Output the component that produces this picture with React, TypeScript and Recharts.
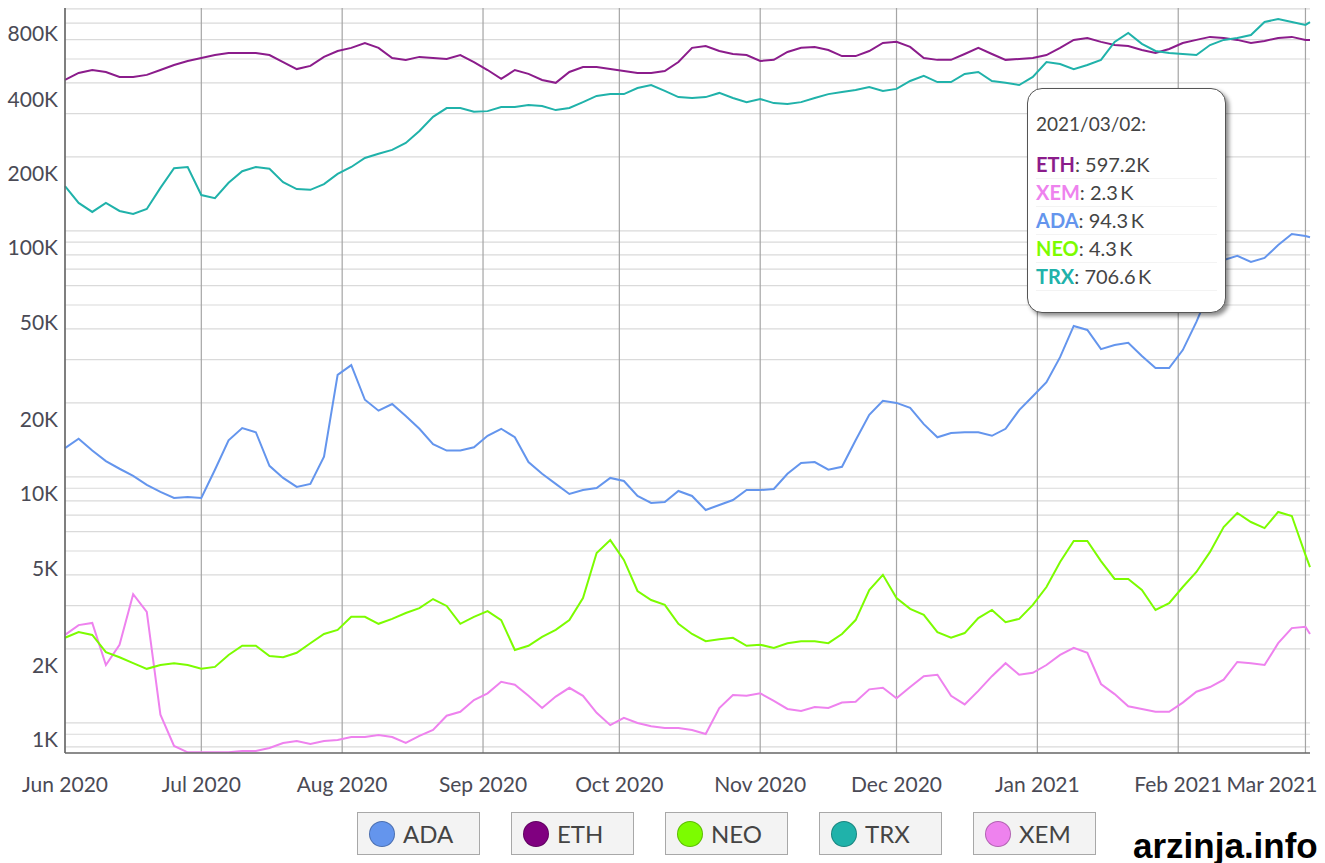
import { CartesianGrid, Line, LineChart, Tooltip, XAxis, YAxis } from "recharts"

// days since 2020-06-01
const START = Date.UTC(2020, 5, 1)
const days = [
  0, 3, 6, 9, 12, 15, 18, 21, 24, 27, 30, 33, 36, 39, 42, 45, 48, 51, 54, 57, 60, 63, 66, 69, 72, 75, 78, 81, 84, 87,
  90, 93, 96, 99, 102, 105, 108, 111, 114, 117, 120, 123, 126, 129, 132, 135, 138, 141, 144, 147, 150, 153, 156, 159,
  162, 165, 168, 171, 174, 177, 180, 183, 186, 189, 192, 195, 198, 201, 204, 207, 210, 213, 216, 219, 222, 225, 228,
  231, 234, 237, 240, 243, 246, 249, 252, 255, 258, 261, 264, 267, 270, 273, 274,
]

// values in thousands
const eth = [
  411, 439, 451, 443, 423, 423, 431, 451, 473, 491, 505, 519, 529, 529, 529, 519, 486, 455, 469, 510, 539, 555, 581, 555,
  505, 496, 510, 505, 500, 519, 486, 451, 415, 451, 435, 411, 400, 443, 464, 464, 455, 447, 439, 439, 447, 486, 555, 565,
  539, 524, 519, 491, 496, 534, 555, 560, 544, 514, 514, 539, 581, 587, 560, 505, 496, 496, 524, 555, 524, 496, 500, 505,
  519, 555, 598, 609, 587, 570, 565, 544, 529, 549, 581, 598, 615, 609, 598, 581, 592, 609, 615, 598, 597.2,
]
const xem = [
  2.28, 2.5, 2.55, 1.72, 2.08, 3.34, 2.83, 1.08, 0.806, 0.76, 0.76, 0.76, 0.76, 0.769, 0.769, 0.791, 0.829, 0.845, 0.822,
  0.845, 0.853, 0.877, 0.877, 0.894, 0.877, 0.829, 0.886, 0.937, 1.07, 1.11, 1.24, 1.32, 1.47, 1.43, 1.29, 1.15, 1.28,
  1.39, 1.29, 1.1, 0.98, 1.05, 1.0, 0.97, 0.954, 0.954, 0.937, 0.902, 1.15, 1.3, 1.29, 1.32, 1.23, 1.14, 1.12, 1.16, 1.15,
  1.21, 1.22, 1.37, 1.39, 1.26, 1.4, 1.55, 1.57, 1.29, 1.19, 1.35, 1.55, 1.75, 1.57, 1.6, 1.72, 1.89, 2.02, 1.93, 1.44,
  1.31, 1.17, 1.14, 1.11, 1.11, 1.21, 1.34, 1.4, 1.5, 1.77, 1.75, 1.72, 2.11, 2.43, 2.46, 2.3,
]
const ada = [
  13.1, 14.3, 12.8, 11.6, 10.8, 10.1, 9.28, 8.69, 8.22, 8.29, 8.22, 10.7, 14.1, 15.8, 15.2, 11.1, 9.91, 9.11, 9.37, 12.1,
  26.0, 28.5, 20.6, 18.6, 19.8, 17.7, 15.7, 13.6, 12.8, 12.8, 13.2, 14.7, 15.7, 14.5, 11.5, 10.3, 9.37, 8.53, 8.85, 9.02,
  9.91, 9.63, 8.37, 7.84, 7.91, 8.77, 8.37, 7.34, 7.69, 8.06, 8.85, 8.85, 8.94, 10.3, 11.4, 11.5, 10.7, 11.0, 14.1, 17.9,
  20.4, 20.0, 19.1, 16.4, 14.5, 15.1, 15.2, 15.2, 14.7, 15.7, 18.7, 21.3, 24.3, 30.7, 41.1, 39.6, 33.1, 34.4, 35.1, 31.0,
  27.7, 27.7, 32.8, 42.7, 57.6, 76.2, 79.2, 74.8, 77.7, 87.7, 97.2, 95.4, 94.3,
]
const neo = [
  2.22, 2.34, 2.28, 1.94, 1.85, 1.75, 1.66, 1.72, 1.75, 1.72, 1.66, 1.69, 1.89, 2.06, 2.06, 1.87, 1.85, 1.93, 2.11, 2.3,
  2.39, 2.7, 2.7, 2.53, 2.65, 2.8, 2.93, 3.19, 2.99, 2.53, 2.7, 2.85, 2.62, 1.98, 2.06, 2.24, 2.39, 2.62, 3.22, 4.91,
  5.54, 4.6, 3.44, 3.16, 3.02, 2.53, 2.3, 2.15, 2.19, 2.22, 2.06, 2.08, 2.02, 2.11, 2.15, 2.15, 2.11, 2.3, 2.62, 3.47,
  4.0, 3.22, 2.91, 2.75, 2.34, 2.22, 2.32, 2.67, 2.88, 2.57, 2.65, 3.02, 3.57, 4.51, 5.49, 5.49, 4.55, 3.85, 3.85, 3.47,
  2.88, 3.07, 3.57, 4.11, 4.96, 6.26, 7.14, 6.56, 6.2, 7.21, 6.94, 4.82, 4.3,
]
const trx = [
  152, 130, 119.5, 130, 120.6, 117.3, 122.9, 149.6, 180, 182, 140, 136, 157, 175, 182, 179, 158, 148, 147, 155, 170.5,
  182, 198, 206, 213.5, 228, 255, 291, 316, 316, 305, 307, 319, 319, 325, 322, 310, 316, 334, 354, 360, 360, 381, 392,
  371, 350, 347, 350, 364, 347, 334, 344, 331, 328, 334, 347, 360, 367, 374, 385, 371, 378, 407, 427, 403, 403, 435, 443,
  407, 400, 392, 423, 486, 477, 455, 473, 496, 587, 638, 576, 539, 529, 524, 519, 570, 598, 609, 626, 707, 727, 707, 688,
  706.6,
]

const series = [
  { key: "ETH", color: "#8b1c8b", values: eth },
  { key: "XEM", color: "#ee82ee", values: xem },
  { key: "ADA", color: "#6495ed", values: ada },
  { key: "NEO", color: "#7cfc00", values: neo },
  { key: "TRX", color: "#20b2aa", values: trx },
]
const legendOrder = ["ADA", "ETH", "NEO", "TRX", "XEM"]
const legendColors: Record<string, string> = {
  ADA: "#6495ed",
  ETH: "#800080",
  NEO: "#7cfc00",
  TRX: "#20b2aa",
  XEM: "#ee82ee",
}

const monthTicks = [0, 30, 61, 92, 122, 153, 183, 214, 245, 273]
const monthLabels = [
  "Jun 2020", "Jul 2020", "Aug 2020", "Sep 2020", "Oct 2020",
  "Nov 2020", "Dec 2020", "Jan 2021", "Feb 2021", "Mar 2021",
]
const yTicks = [1, 2, 5, 10, 20, 50, 100, 200, 400, 800]
const yLabels = ["1K", "2K", "5K", "10K", "20K", "50K", "100K", "200K", "400K", "800K"]
const gridValues = [
  0.8, 0.9, 1, 2, 3, 4, 5, 6, 7, 8, 9, 10, 20, 30, 40, 50, 60, 70, 80, 90, 100, 200, 300, 400, 500, 600, 700, 800,
]

const rows = days.map((day, i) => {
  const row: Record<string, number> = { day }
  series.forEach((s) => (row[s.key] = s.values[i]))
  return row
})

const FONT = "Lato, 'Noto Sans', sans-serif"

function fmtDate(day: number) {
  const d = new Date(START + day * 86400000)
  const mm = String(d.getUTCMonth() + 1).padStart(2, "0")
  const dd = String(d.getUTCDate()).padStart(2, "0")
  return `${d.getUTCFullYear()}/${mm}/${dd}:`
}

function YTick({ y, payload }: any) {
  const label = yLabels[yTicks.indexOf(payload.value)]
  return (
    <text x={58} y={Math.max(y + 16, 32)} textAnchor="end" dominantBaseline="central" fontSize={21} fill="#4a4a55" fontFamily={FONT}>
      {label}
    </text>
  )
}

function XTick({ x, y, payload }: any) {
  const i = monthTicks.indexOf(payload.value)
  const last = i === monthTicks.length - 1
  return (
    <text x={last ? x + 12 : x} y={y + 31} textAnchor={last ? "end" : "middle"} fontSize={21} fill="#4a4a55" fontFamily={FONT}>
      {monthLabels[i]}
    </text>
  )
}

function TipBox({ active, payload, label }: any) {
  if (!active || !payload || !payload.length) return null
  return (
    <div
      style={{
        width: 199,
        height: 225,
        boxSizing: "border-box",
        background: "#fff",
        border: "1.5px solid #555",
        borderRadius: 15,
        boxShadow: "3px 3px 4px rgba(0,0,0,0.45)",
        padding: "24px 8px 0 8px",
        fontFamily: FONT,
        fontSize: 20,
        color: "#444",
      }}
    >
      <div style={{ lineHeight: "22px", fontSize: 19 }}>{fmtDate(label)}</div>
      <div style={{ marginTop: 16 }}>
        {payload.map((p: any) => (
          <div key={p.name} style={{ lineHeight: "27px", borderBottom: "1px solid #f3f3f3" }}>
            <span style={{ color: p.color || p.stroke, fontWeight: 700 }}>{p.name}</span>
            <span>: {p.value}{p.name === "ETH" ? "K" : "\u2009K"}</span>
          </div>
        ))}
      </div>
    </div>
  )
}

export default function App() {
  return (
    <div style={{ position: "absolute", left: 0, top: 0, width: 1325, height: 863, background: "#fff", fontFamily: FONT }}>
      <LineChart width={1325} height={863} data={rows} margin={{ top: 8, right: 15, bottom: 60, left: 0 }}>
        <CartesianGrid vertical={false} horizontalValues={gridValues} stroke="#dadada" strokeWidth={1.2} />
        <CartesianGrid horizontal={false} verticalValues={monthTicks} stroke="#a5a5a5" strokeWidth={1.2} />
        <XAxis
          dataKey="day"
          type="number"
          domain={[0, 274]}
          ticks={monthTicks}
          tick={<XTick />}
          tickLine={false}
          axisLine={{ stroke: "#666", strokeWidth: 1.5 }}
          height={50}
          interval={0}
        />
        <YAxis
          type="number"
          scale="log"
          domain={[0.755, 806]}
          allowDataOverflow
          ticks={yTicks}
          tick={<YTick />}
          tickLine={false}
          axisLine={{ stroke: "#666", strokeWidth: 1.5 }}
          width={65}
          interval={0}
        />
        <Tooltip
          content={<TipBox />}
          defaultIndex={rows.length - 1}
          active
          cursor={false}
          position={{ x: 1027, y: 88 }}
          isAnimationActive={false}
          wrapperStyle={{ pointerEvents: "none" }}
        />
        {series.map((s) => (
          <Line
            key={s.key}
            dataKey={s.key}
            name={s.key}
            type="linear"
            stroke={s.color}
            strokeWidth={2}
            dot={false}
            activeDot={false}
            isAnimationActive={false}
          />
        ))}
      </LineChart>

      <div style={{ position: "absolute", left: 357, top: 812, display: "flex", gap: 31 }}>
        {legendOrder.map((k) => (
          <div
            key={k}
            style={{
              width: 123,
              height: 43,
              boxSizing: "border-box",
              background: "#f3f3f3",
              border: "1px solid #a8a8a8",
              display: "flex",
              alignItems: "center",
              paddingLeft: 11,
            }}
          >
            <span
              style={{
                width: 26,
                height: 26,
                borderRadius: "50%",
                background: legendColors[k],
                border: "1px solid rgba(0,0,0,0.25)",
                boxSizing: "border-box",
              }}
            />
            <span style={{ marginLeft: 8, fontSize: 24, color: "#444" }}>{k}</span>
          </div>
        ))}
      </div>

      <div
        style={{
          position: "absolute",
          left: 1133,
          top: 828,
          fontFamily: "'Liberation Sans', Arial, sans-serif",
          fontWeight: 700,
          fontSize: 35,
          lineHeight: 1,
          color: "#000",
        }}
      >
        arzinja.info
      </div>
    </div>
  )
}
